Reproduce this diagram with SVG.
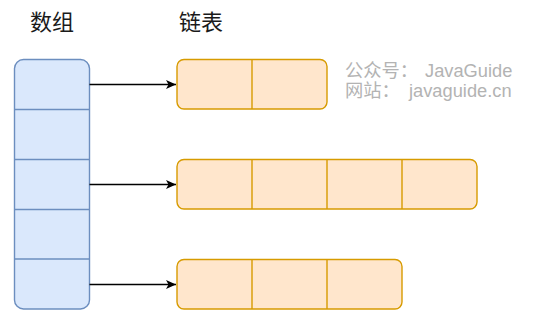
<svg xmlns="http://www.w3.org/2000/svg" width="536" height="322" viewBox="0 0 536 322">
<style>
.arr{fill:#dae8fc;stroke:#6c8ebf;stroke-width:1.4}
.ll{fill:#ffe6cc;stroke:#d79b00;stroke-width:1.4}
.div{stroke:#d79b00;stroke-width:1.4;fill:none}
.adiv{stroke:#6c8ebf;stroke-width:1.4;fill:none}
.title{font-family:"Noto Sans CJK SC","Liberation Sans",sans-serif;font-size:22px;fill:#1a1a1a}
.wm{font-family:"Liberation Sans","Noto Sans CJK SC",sans-serif;font-size:18.3px;fill:#b3b3b3}
.conn{stroke:#000;stroke-width:1.3;fill:none}
</style>
<defs>
<marker id="ah" markerWidth="12" markerHeight="12" refX="10" refY="5" orient="auto" markerUnits="userSpaceOnUse">
<path d="M0,0.5 L10,5 L0,9.5 L2.5,5 Z" fill="#000"/>
</marker>
</defs>
<g id="titles">
<text class="title" x="30" y="30">数组</text>
<text class="title" x="179" y="30">链表</text>
</g>
<g id="watermark">
<text class="wm" x="345" y="77">公众号：<tspan x="425">JavaGuide</tspan></text>
<text class="wm" x="345" y="97">网站：<tspan x="409">javaguide.cn</tspan></text>
</g>
<g id="array">
<rect class="arr" x="14.5" y="59.5" width="75" height="249.5" rx="9"/>
<path class="adiv" d="M14.5,109.5H89.5M14.5,159.5H89.5M14.5,209.5H89.5M14.5,259H89.5"/>
</g>
<g id="list1">
<rect class="ll" x="177" y="59.5" width="150" height="49.5" rx="7"/>
<path class="div" d="M252,59.5V109"/>
</g>
<g id="list2">
<rect class="ll" x="177" y="159.5" width="300" height="49.5" rx="7"/>
<path class="div" d="M252,159.5V209M327,159.5V209M402,159.5V209"/>
</g>
<g id="list3">
<rect class="ll" x="177" y="259.5" width="225" height="49.5" rx="7"/>
<path class="div" d="M252,259.5V309M327,259.5V309"/>
</g>
<g id="connectors">
<path class="conn" d="M89.5,84.5H176" marker-end="url(#ah)"/>
<path class="conn" d="M89.5,184.5H176" marker-end="url(#ah)"/>
<path class="conn" d="M89.5,284.5H176" marker-end="url(#ah)"/>
</g>
</svg>
